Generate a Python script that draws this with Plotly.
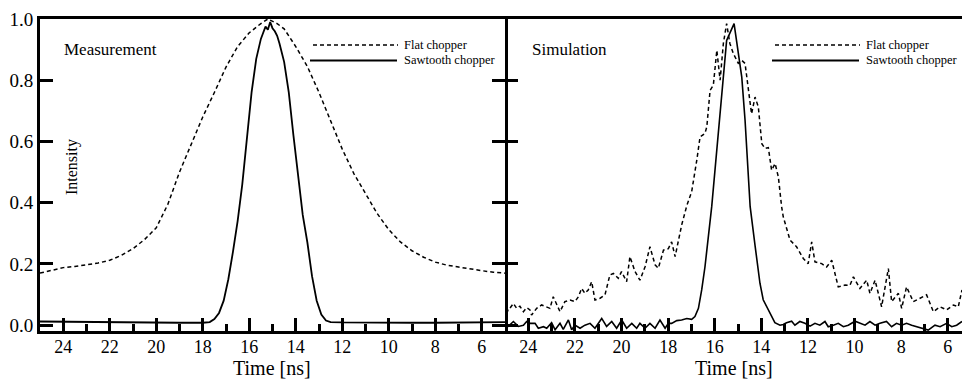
import plotly.graph_objects as go

# ---------------- data ----------------
meas_flat_t = [25.0, 24.5, 24.0, 23.5, 23.0, 22.5, 22.0, 21.5, 21.0, 20.5, 20.0, 19.5, 19.0, 18.5, 18.0,
               17.5, 17.0, 16.5, 16.0, 15.5, 15.2, 14.8, 14.5, 14.0, 13.5, 13.0, 12.5, 12.0, 11.5, 11.0,
               10.5, 10.0, 9.5, 9.0, 8.5, 8.0, 7.5, 7.0, 6.5, 6.0, 5.5, 5.0]
meas_flat_v = [0.170, 0.180, 0.188, 0.192, 0.197, 0.203, 0.212, 0.228, 0.250, 0.280, 0.318, 0.395, 0.500, 0.590, 0.680,
               0.760, 0.843, 0.910, 0.955, 0.985, 1.000, 0.985, 0.968, 0.910, 0.845, 0.760, 0.665, 0.575, 0.495, 0.430,
               0.365, 0.312, 0.272, 0.243, 0.222, 0.206, 0.196, 0.190, 0.183, 0.178, 0.173, 0.170]

meas_saw_t = [25.0, 24.0, 23.0, 22.0, 21.0, 20.0, 19.0, 18.0, 17.7, 17.5, 17.3, 17.1, 16.9, 16.7, 16.5, 16.3,
              16.1, 15.9, 15.7, 15.5, 15.4, 15.3, 15.2, 15.1, 15.0, 14.9, 14.8, 14.7, 14.5, 14.3, 14.1, 13.9,
              13.7, 13.5, 13.3, 13.1, 12.9, 12.7, 12.5, 12.0, 11.0, 10.0, 9.0, 8.0, 7.0, 6.0, 5.0]
meas_saw_v = [0.012, 0.011, 0.011, 0.010, 0.009, 0.008, 0.008, 0.008, 0.010, 0.020, 0.040, 0.080, 0.150, 0.240, 0.340, 0.460,
              0.600, 0.760, 0.870, 0.935, 0.955, 0.975, 0.965, 0.990, 0.970, 0.960, 0.945, 0.920, 0.860, 0.760, 0.620, 0.480,
              0.360, 0.270, 0.160, 0.080, 0.035, 0.015, 0.010, 0.009, 0.008, 0.008, 0.008, 0.008, 0.009, 0.009, 0.010]

sim_flat_t = [25.0, 24.86, 24.64, 24.5, 24.36, 24.21, 24.07, 23.93, 23.86, 23.64, 23.43, 23.21, 23.07, 22.93, 22.78,
              22.64, 22.43, 22.21, 22.0, 21.85, 21.71, 21.57, 21.43, 21.28, 21.14, 20.92, 20.71, 20.5, 20.35, 20.14,
              20.0, 19.78, 19.64, 19.42, 19.21, 18.99, 18.78, 18.56, 18.42, 18.2, 17.99, 17.85, 17.7, 17.56, 17.42,
              17.2, 16.99, 16.77, 16.63, 16.42, 16.34, 16.2, 16.06, 15.91, 15.77, 15.63, 15.49, 15.35, 15.2, 14.99,
              14.84, 14.7, 14.56, 14.42, 14.27, 14.13, 13.98, 13.84, 13.7, 13.56, 13.41, 13.27, 13.13, 13.06, 12.77,
              12.49, 12.2, 11.99, 11.84, 11.7, 11.41, 11.2, 10.98, 10.7, 10.41, 10.2, 10.05, 9.77, 9.48, 9.34,
              9.12, 8.84, 8.55, 8.41, 8.12, 7.98, 7.77, 7.48, 7.19, 6.91, 6.62, 6.33, 6.05, 5.76, 5.55, 5.39]
sim_flat_v = [0.055, 0.048, 0.071, 0.055, 0.062, 0.044, 0.057, 0.050, 0.033, 0.055, 0.066, 0.060, 0.055, 0.093, 0.070,
              0.044, 0.077, 0.082, 0.077, 0.093, 0.120, 0.104, 0.115, 0.142, 0.082, 0.088, 0.099, 0.164, 0.169, 0.153,
              0.175, 0.142, 0.224, 0.175, 0.147, 0.191, 0.256, 0.197, 0.186, 0.245, 0.250, 0.272, 0.224, 0.278, 0.327,
              0.390, 0.436, 0.539, 0.615, 0.626, 0.648, 0.767, 0.784, 0.898, 0.800, 0.920, 0.985, 0.920, 0.887, 0.855,
              0.865, 0.855, 0.767, 0.690, 0.745, 0.713, 0.593, 0.577, 0.580, 0.506, 0.528, 0.484, 0.387, 0.354, 0.278,
              0.256, 0.218, 0.201, 0.272, 0.207, 0.201, 0.190, 0.212, 0.125, 0.131, 0.130, 0.158, 0.120, 0.147, 0.104,
              0.147, 0.060, 0.185, 0.077, 0.104, 0.055, 0.125, 0.077, 0.088, 0.099, 0.044, 0.060, 0.050, 0.066, 0.060, 0.115]

sim_saw_t = [25.0, 24.86, 24.64, 24.43, 24.21, 24.07, 23.93, 23.71, 23.57, 23.35, 23.21, 23.0, 22.85, 22.64, 22.5,
             22.28, 22.14, 22.0, 21.78, 21.57, 21.35, 21.14, 20.85, 20.64, 20.42, 20.21, 19.99, 19.78, 19.56, 19.35,
             19.21, 18.99, 18.78, 18.56, 18.35, 18.13, 17.99, 17.85, 17.63, 17.42, 17.2, 16.99, 16.85, 16.7, 16.56,
             16.42, 16.13, 15.91, 15.7, 15.49, 15.17, 14.99, 14.84, 14.7, 14.48, 14.27, 14.06, 13.92, 13.63, 13.42,
             13.2, 13.06, 12.92, 12.7, 12.56, 12.35, 12.13, 11.91, 11.7, 11.49, 11.27, 11.13, 10.91, 10.7, 10.48,
             10.27, 9.98, 9.77, 9.55, 9.34, 9.12, 8.91, 8.63, 8.41, 8.2, 7.98, 7.77, 7.55, 7.34, 7.05, 6.84,
             6.55, 6.33, 6.05, 5.83, 5.62, 5.39]
sim_saw_v = [-0.008, -0.004, 0.012, -0.004, 0.000, 0.012, 0.006, 0.006, -0.010, -0.005, -0.010, 0.008, -0.015, 0.006, -0.014,
             0.017, -0.015, 0.000, -0.010, 0.000, 0.006, -0.010, 0.022, -0.004, 0.012, -0.010, 0.017, -0.010, 0.006, -0.010,
             0.006, -0.010, 0.006, -0.010, 0.017, -0.010, 0.006, 0.006, 0.015, 0.017, 0.022, 0.019, 0.028, 0.055, 0.115,
             0.190, 0.387, 0.572, 0.757, 0.930, 0.985, 0.887, 0.810, 0.670, 0.387, 0.260, 0.137, 0.083, 0.040, 0.008,
             0.000, 0.002, 0.008, 0.013, 0.000, 0.012, 0.006, -0.003, 0.006, 0.000, 0.012, -0.005, 0.000, 0.006, -0.005,
             0.000, 0.013, 0.006, 0.000, 0.012, 0.000, 0.006, 0.012, -0.005, 0.006, 0.000, 0.006, 0.000, -0.005, -0.011, -0.016,
             0.000, -0.005, 0.006, -0.005, 0.000, 0.012]

x_tickvals = [24, 22, 20, 18, 16, 14, 12, 10, 8, 6]
y_tickvals = [0.0, 0.2, 0.4, 0.6, 0.8, 1.0]
y_ticktext = ["0.0", "0.2", "0.4", "0.6", "0.8", "1.0"]
panel_titles = ["Measurement", "Simulation"]
legend_names = ["Flat chopper", "Sawtooth chopper"]
x_title = "Time [ns]"

# ---------------- figure ----------------
FONT = "Liberation Serif, Times New Roman, serif"
W, H = 962, 380
ML, MR, MT, MB = 40, 0, 19, 49
PW, PH = W - ML - MR, H - MT - MB
split = (505 - ML) / PW

DASH = "4px,3px"
fig = go.Figure()
fig.add_trace(go.Scatter(x=meas_flat_t, y=meas_flat_v, mode="lines", line=dict(color="black", width=1.5, dash=DASH),
                         xaxis="x", yaxis="y", showlegend=False))
fig.add_trace(go.Scatter(x=meas_saw_t, y=meas_saw_v, mode="lines", line=dict(color="black", width=1.8),
                         xaxis="x", yaxis="y", showlegend=False))
fig.add_trace(go.Scatter(x=sim_flat_t, y=sim_flat_v, mode="lines", line=dict(color="black", width=1.5, dash=DASH),
                         xaxis="x2", yaxis="y2", showlegend=False))
fig.add_trace(go.Scatter(x=sim_saw_t, y=sim_saw_v, mode="lines", line=dict(color="black", width=1.6),
                         xaxis="x2", yaxis="y2", showlegend=False))

xcommon = dict(tickvals=x_tickvals, ticks="inside", ticklen=13, tickwidth=2.5, tickcolor="black",
               showline=True, linecolor="black", linewidth=3, mirror=True, showgrid=False, zeroline=False,
               tickfont=dict(family=FONT, size=18, color="black"), ticklabelstandoff=-3,
               minor=dict(dtick=1, tick0=0, ticks="inside", ticklen=7, tickwidth=2.5, tickcolor="black"))
ycommon = dict(range=[-0.019, 1.0], tickvals=y_tickvals, ticks="inside", ticklen=13, tickwidth=2.5, tickcolor="black",
               linecolor="black", linewidth=3, showgrid=False, zeroline=False)

fig.update_layout(
    width=W, height=H, margin=dict(l=ML, r=MR, t=MT, b=MB),
    paper_bgcolor="white", plot_bgcolor="white",
    font=dict(family=FONT, color="black"),
    xaxis=dict(domain=[0, split], range=[25, 5], anchor="y", **xcommon),
    xaxis2=dict(domain=[split, 1], range=[25, 5.39], anchor="y2", **xcommon),
    yaxis=dict(domain=[0, 1], anchor="x", mirror="ticks", showline=True, ticktext=y_ticktext,
               tickfont=dict(family=FONT, size=19, color="black"), **ycommon),
    yaxis2=dict(domain=[0, 1], anchor="x2", mirror=False, showline=False, showticklabels=False, **ycommon),
)

def px2paper(px, py):
    return (px - ML) / PW, (H - MB - py) / PH

annotations = []
shapes = []
# axis titles (one per panel)
for cx in [272, 733.5]:
    x, y = px2paper(cx, 380)
    annotations.append(dict(text=x_title, x=x, y=y, xref="paper", yref="paper", xanchor="center",
                            yanchor="bottom", showarrow=False, borderpad=0,
                            font=dict(family=FONT, size=20, color="black")))
# panel titles
for title, px in zip(panel_titles, [62, 530]):
    x, y = px2paper(px, 49)
    annotations.append(dict(text=title, x=x, y=y, xref="paper", yref="paper", xanchor="left", yanchor="middle",
                            showarrow=False, font=dict(family=FONT, size=17, color="black")))
# Intensity label
x, y = px2paper(72, 167)
annotations.append(dict(text="Intensity", x=x, y=y, xref="paper", yref="paper", textangle=-90,
                        xanchor="center", yanchor="middle", showarrow=False,
                        font=dict(family=FONT, size=16, color="black")))
# manual legends in both panels
for off in [0, 462]:
    for name, py, x0, x1, dash, w in [(legend_names[0], 45, 313, 398, DASH, 1.5),
                                      (legend_names[1], 60.5, 310, 397, "solid", 1.8)]:
        a0, b = px2paper(x0 + off, py)
        a1, _ = px2paper(x1 + off, py)
        shapes.append(dict(type="line", xref="paper", yref="paper", x0=a0, x1=a1, y0=b, y1=b,
                           line=dict(color="black", width=w, dash=dash)))
        tx, ty = px2paper(402 + off, py)
        annotations.append(dict(text=name, x=tx, y=ty, xref="paper", yref="paper", xanchor="left",
                                yanchor="middle", showarrow=False,
                                font=dict(family=FONT, size=12.5, color="black")))
fig.update_layout(annotations=annotations, shapes=shapes)

fig.write_html("out.html")
